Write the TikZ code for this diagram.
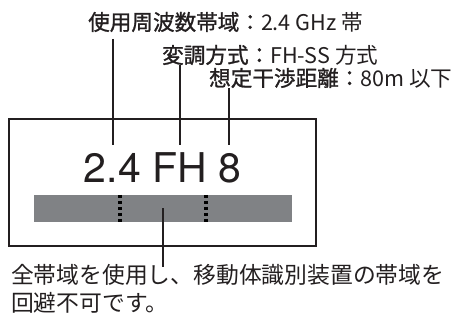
\documentclass[tikz,border=0pt]{standalone}
\usepackage{fontspec}
\setmainfont{TeX Gyre Heros}
\newfontfamily\jp{Noto Sans CJK JP}
\newfontfamily\jpm[FakeBold=1.2]{Noto Sans CJK JP}
\definecolor{ink}{HTML}{231F20}
\definecolor{bargray}{HTML}{808285}
\begin{document}
\begin{tikzpicture}[x=1pt,y=-1pt,
  lbl/.style={inner sep=0pt, anchor=west, text=ink, font=\fontsize{21.6}{26}\selectfont},
  note/.style={inner sep=0pt, anchor=west, text=ink, font=\jp\fontsize{22.8}{28}\selectfont},
  conn/.style={line width=1.6pt, draw=ink},
  sep/.style={line width=3.2pt, draw=black, dash pattern=on 3.5pt off 2.5pt}]
\useasboundingbox (0,0) rectangle (455,320);
% labels
\node[lbl] (l1) at (88,22) {\jpm 使用周波数帯域：\jp 2.4 GHz 帯};
\node[lbl] (l2) at (162,55) {\jpm 変調方式：\jp FH-SS 方式};
\node[lbl] (l3) at (209,78) {\jpm 想定干渉距離：\jp 80m 以下};
% frame
\node[draw=ink, line width=1.8pt, minimum width=307pt, minimum height=127pt, inner sep=0pt] (frame) at (162.5,182.5) {};
% code
\node[anchor=base, inner sep=0pt, text=ink, font=\fontsize{41}{45}\selectfont] (code) at (162.5,183) {2.4 FH 8};
% bar
\node[fill=bargray, minimum width=258pt, minimum height=27pt, inner sep=0pt] (bar) at (163,208.5) {};
\draw[sep] (120,195) -- (120,222);
\draw[sep] (206,195) -- (206,222);
% connectors
\coordinate (t1) at (113,39);  \coordinate (b1) at (113,145);
\coordinate (t2) at (180,65);  \coordinate (b2) at (180,145);
\coordinate (t3) at (229,88);  \coordinate (b3) at (229,145);
\draw[conn] (t1) -- (b1);
\draw[conn] (t2) -- (b2);
\draw[conn] (t3) -- (b3);
% bottom note
\node[note] (n1) at (11,275) {全帯域を使用し、移動体識別装置の帯域を};
\node[note] (n2) at (11,303) {回避不可です。};
\coordinate (nb) at (163,267);
\draw[conn] (bar.center) -- (nb);
\end{tikzpicture}
\end{document}
